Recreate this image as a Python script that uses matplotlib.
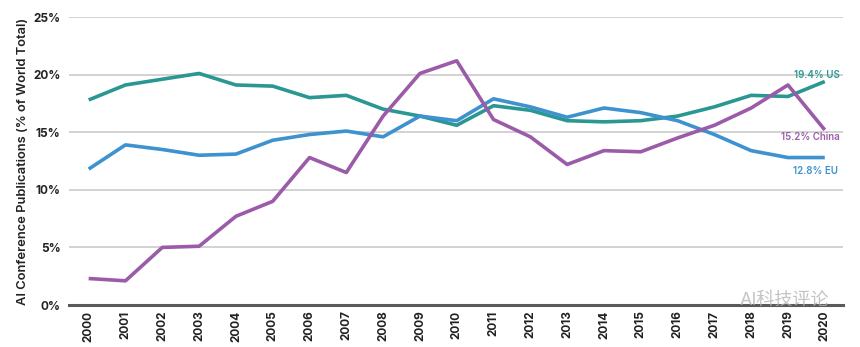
import matplotlib
matplotlib.use("Agg")
import matplotlib.pyplot as plt

plt.rcParams['font.family'] = ['Inter', 'Noto Sans CJK SC', 'DejaVu Sans']

years = list(range(2000, 2021))
us = [17.8, 19.1, 19.6, 20.1, 19.1, 19.0, 18.0, 18.2, 17.0, 16.4, 15.6,
      17.3, 16.9, 16.0, 15.9, 16.0, 16.4, 17.2, 18.2, 18.1, 19.4]
eu = [11.8, 13.9, 13.5, 13.0, 13.1, 14.3, 14.8, 15.1, 14.6, 16.4, 16.0,
      17.9, 17.2, 16.3, 17.1, 16.7, 16.0, 14.8, 13.4, 12.8, 12.8]
china = [2.3, 2.1, 5.0, 5.1, 7.7, 9.0, 12.8, 11.5, 16.4, 20.1, 21.2,
         16.1, 14.6, 12.2, 13.4, 13.3, 14.5, 15.6, 17.1, 19.1, 15.2]
yticks = [0, 5, 10, 15, 20, 25]

c_us = '#2a9793'
c_eu = '#3d92cf'
c_cn = '#9b5ba8'

fig = plt.figure(figsize=(8.6, 3.47), dpi=100)
ax = fig.add_axes([0.080, 0.121, 0.900, 0.830])

for t in yticks[1:]:
    ax.axhline(t, color='#d2d2d2', lw=1.4, zorder=0)

ax.plot(years, us, color=c_us, lw=2.6, solid_capstyle='butt')
ax.plot(years, eu, color=c_eu, lw=2.6, solid_capstyle='butt')
ax.plot(years, china, color=c_cn, lw=2.6, solid_capstyle='butt')

ax.set_xlim(1999.46, 2020.49)
ax.set_ylim(0, 25)

for s in ['top', 'right', 'left']:
    ax.spines[s].set_visible(False)
ax.spines['bottom'].set_color('#5a5a5a')
ax.spines['bottom'].set_linewidth(2.2)

ax.set_yticks(yticks)
ax.set_yticklabels([f'{t}%' for t in yticks], fontsize=8.5, fontweight='bold', color='#222222')
ax.set_xticks(years)
ax.set_xticklabels([str(y) for y in years], rotation=90, fontsize=8.5,
                   fontweight='bold', color='#222222')
ax.tick_params(axis='both', length=0)
ax.tick_params(axis='y', pad=6)
ax.tick_params(axis='x', pad=4)

ax.set_ylabel('AI Conference Publications (% of World Total)', fontsize=9.3,
              fontweight='semibold', color='#222222', labelpad=3)

ax.text(2020.4, us[-1] + 0.6, f'{us[-1]}% US', color=c_us, fontsize=7,
        fontweight='semibold', ha='right', va='center')
ax.text(2020.4, china[-1] - 0.6, f'{china[-1]}% China', color=c_cn, fontsize=7,
        fontweight='semibold', ha='right', va='center')
ax.text(2020.35, eu[-1] - 1.15, f'{eu[-1]}% EU', color=c_eu, fontsize=7,
        fontweight='semibold', ha='right', va='center')

fig.text(0.86, 0.135, 'AI科技评论', fontsize=13, color='#b5b5b5', alpha=0.8,
         ha='left', va='center')

fig.savefig('out.png', dpi=100)
